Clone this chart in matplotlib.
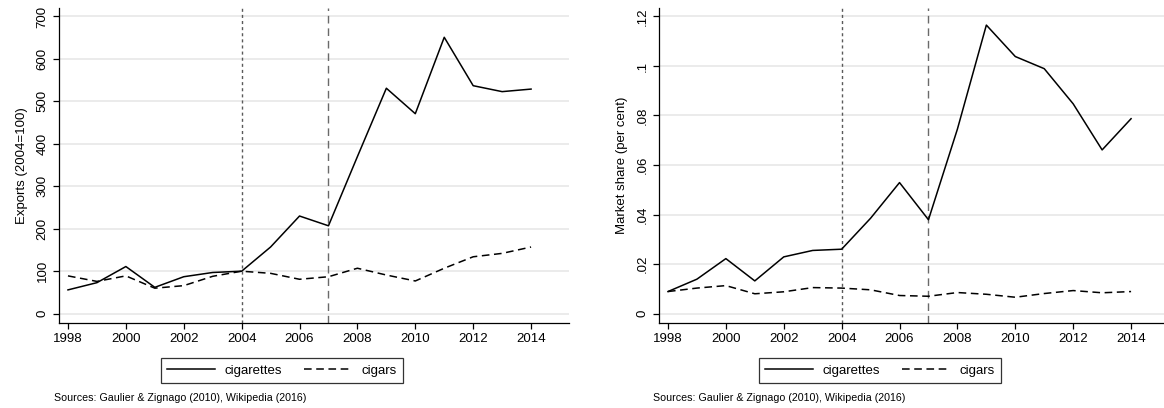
import matplotlib
matplotlib.use("Agg")
import matplotlib.pyplot as plt

plt.rcParams['font.family'] = ['Liberation Sans', 'DejaVu Sans']

years = list(range(1998, 2015))

exports_cigarettes = [56, 73, 111, 62, 87, 97, 100, 157, 230, 207, 370, 531, 471, 651, 537, 523, 529]
exports_cigars = [89, 76, 89, 60, 66, 88, 100, 95, 81, 87, 107, 91, 77, 107, 134, 142, 157]

share_cigarettes = [0.0089, 0.0139, 0.0222, 0.0132, 0.0229, 0.0255, 0.0260, 0.0385, 0.0529,
                    0.0379, 0.0745, 0.1165, 0.1038, 0.0989, 0.0847, 0.0661, 0.0787]
share_cigars = [0.0089, 0.0103, 0.0113, 0.0080, 0.0088, 0.0105, 0.0103, 0.0096, 0.0073,
                0.0070, 0.0085, 0.0078, 0.0066, 0.0081, 0.0093, 0.0084, 0.0089]

x_ticks = list(range(1998, 2015, 2))
exports_ticks = [0, 100, 200, 300, 400, 500, 600, 700]
exports_tick_labels = ['0', '100', '200', '300', '400', '500', '600', '700']
share_ticks = [0, 0.02, 0.04, 0.06, 0.08, 0.10, 0.12]
share_tick_labels = ['0', '.02', '.04', '.06', '.08', '.1', '.12']

event_years = [2004, 2007]
source_text = 'Sources: Gaulier & Zignago (2010), Wikipedia (2016)'

W, H = 1164, 408
fig = plt.figure(figsize=(W / 100, H / 100), dpi=100)


def px_axes(x0, x1, y_top, y_bot):
    return fig.add_axes([x0 / W, 1 - y_bot / H, (x1 - x0) / W, (y_bot - y_top) / H])


def draw_panel(ax, cig, cgr, ticks, tick_labels, ylim, ylabel, legend_box, src_x):
    ax.set_xlim(1997.69, 2015.3)
    ax.set_ylim(*ylim)
    for t in ticks:
        ax.axhline(t, color='#e8e8e8', lw=1.2, zorder=0)
    ax.axvline(event_years[0], color='#5a5a5a', lw=1.0, dashes=(2.2, 2.2), zorder=1)
    ax.axvline(event_years[1], color='#6a6a6a', lw=1.0, dashes=(5.5, 3.5), zorder=1)
    l1, = ax.plot(years, cig, color='black', lw=1.1, label='cigarettes', zorder=3)
    l2, = ax.plot(years, cgr, color='black', lw=1.1, dashes=(5, 3), label='cigars', zorder=3)
    ax.set_xticks(x_ticks)
    ax.set_yticks(ticks)
    ax.set_yticklabels(tick_labels, rotation=90, va='center')
    ax.tick_params(labelsize=9.5, length=4.5, width=0.9, colors='black', pad=3)
    for s in ['top', 'right']:
        ax.spines[s].set_visible(False)
    for s in ['left', 'bottom']:
        ax.spines[s].set_linewidth(0.9)
    ax.set_ylabel(ylabel, fontsize=9.5, labelpad=6)
    bx0, by0, bx1, by1 = legend_box
    leg = fig.legend(handles=[l1, l2], loc='center',
                     bbox_to_anchor=((bx0 + bx1) / 2 / W, 1 - (by0 + by1) / 2 / H),
                     ncol=2, frameon=True, fancybox=False, fontsize=9.5,
                     handlelength=3.6, columnspacing=1.7, handletextpad=0.75,
                     borderpad=0.45, edgecolor='black')
    leg.get_frame().set_linewidth(0.9)
    fig.text(src_x / W, 1 - 398 / H, source_text, fontsize=7.7, va='center', ha='left')


ax1 = px_axes(59, 568.7, 8, 323)
draw_panel(ax1, exports_cigarettes, exports_cigars, exports_ticks, exports_tick_labels,
           (-22, 720), 'Exports (2004=100)', (160, 357, 404, 384), 54)

ax2 = px_axes(659, 1168.7, 8, 323)
draw_panel(ax2, share_cigarettes, share_cigars, share_ticks, share_tick_labels,
           (-0.0038, 0.1234), 'Market share (per cent)', (758, 357, 1002, 384), 653)

fig.savefig('out.png', dpi=100, facecolor='white')
